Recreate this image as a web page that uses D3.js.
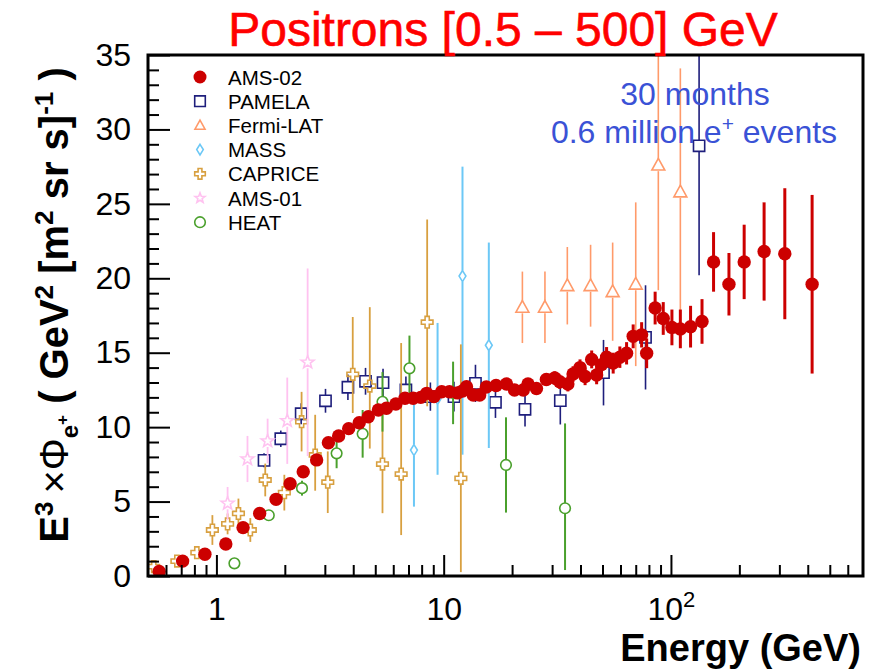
<!DOCTYPE html>
<html>
<head>
<meta charset="utf-8">
<script src="https://cdn.jsdelivr.net/npm/d3@7"></script>
<style>
body { margin: 0; background: #fff; }
svg { font-family: "Liberation Sans", Arial, Helvetica, sans-serif; }
</style>
</head>
<body>
<svg></svg>
<script>
// AMS-02 (energy in GeV, E^3 x flux, error)
let amsE = [0.56,0.71,0.89,1.10,1.31,1.55,1.83,2.11,2.41,2.76,3.11,3.45,3.82,4.25,4.66,5.16,5.6,6.16,6.76,7.34,7.93,8.42,9.07,9.8,
  10.6,11.5,12.1,12.6,13.5,14.4,15.4,17.0,18.9,20.5,22.4,23.5,25.6,28.3,30.8,32.4,35.2,37.1,39.8,41.9,44.8,47.1,49.5,52.1,55.7,59.6,63.8,
  68.2,74.3,78.2,85.2,92.5,101,110,122,137,154,180,210,257,317,418]
let amsV = [0.3,1.0,1.46,2.15,3.25,4.2,5.15,6.2,7.0,7.8,8.95,9.4,9.9,10.3,10.7,11.15,11.27,11.55,11.94,11.94,12.0,12.27,12.05,12.38,
  12.38,12.3,12.43,12.72,12.16,12.16,12.7,12.8,12.9,12.5,12.5,12.9,12.6,13.2,13.3,13.05,12.9,13.57,14.0,13.4,14.55,13.5,14.2,14.7,14.3,14.7,14.96,
  16.1,16.2,14.96,18.0,17.3,16.7,16.6,16.75,17.1,21.1,19.6,21.1,21.8,21.65,19.6]
let amsErr = [0.02,0.03,0.04,0.05,0.06,0.07,0.08,0.09,0.1,0.1,0.1,0.1,0.1,0.1,0.12,0.12,0.12,0.13,0.13,0.14,0.14,0.15,0.15,0.16,
  0.2,0.2,0.22,0.22,0.24,0.25,0.27,0.3,0.32,0.35,0.37,0.38,0.4,0.42,0.45,0.48,0.5,0.52,0.55,0.58,0.6,0.62,0.65,0.68,0.7,0.72,0.75,
  0.8,0.85,1.0,1.1,1.1,1.2,1.3,1.4,1.5,2.0,2.1,2.5,3.3,4.4,6.0]

let pamE = [1.62,1.92,2.36,3.02,3.79,4.53,5.41,6.82,8.74,11.1,13.8,16.9,22.8,32.6,50.5,77.3,133]
let pamV = [7.77,9.22,10.9,11.77,12.68,13.08,12.99,12.5,12.05,12.05,12.94,11.67,11.2,11.78,13.66,16.03,28.9]
let pamErr = [0.47,0.55,0.7,0.8,0.85,0.9,0.93,0.9,0.95,1.0,1.25,1.05,1.15,1.6,2.2,3.5,8.7]

let fermiE = [22.2,27.9,35.0,44.3,55.4,70,88,110]
let fermiV = [18.05,18.05,19.5,19.5,19.1,19.6,27.6,25.8]
let fermiErr = [2.4,2.4,2.6,2.75,3.3,5.5,8.4,8.3]

let massE = [7.4,9.4,12.1,15.8]
let massV = [8.46,11.9,20.15,15.5]
let massLo = [3.8,5.1,12.0,6.9]
let massHi = [3.8,5.1,7.35,6.9]

let capE = [0.53,0.67,0.82,0.96,1.12,1.25,1.41,1.64,1.99,2.37,2.72,3.09,3.98,4.73,5.38,6.5,8.46,11.9]
let capV = [0.63,1.0,1.57,3.09,3.5,4.2,3.09,6.45,5.6,10.37,8.13,6.3,13.55,12.76,7.52,6.85,17.05,6.56]
let capLo = [0.2,0.25,0.3,1.0,0.7,1.0,0.8,1.1,1.2,2.0,2.4,2.07,2.6,4.2,3.3,4.1,5.65,6.3]
let capHi = [0.2,0.25,0.3,1.0,0.7,1.0,0.8,1.1,1.2,2.0,2.7,2.07,3.85,5.3,3.3,8.8,6.9,9.0]

let a01E = [1.12,1.37,1.68,2.05,2.52]
let a01V = [4.88,7.86,9.07,10.43,14.36]
let a01Err = [1.1,1.55,1.5,2.9,6.3]

let heatE = [1.2,1.7,2.38,3.38,4.4,5.38,7.07,11.0,18.8,34.2]
let heatV = [0.85,4.08,5.9,8.24,9.55,11.7,13.95,12.3,7.46,4.55]
let heatLo = [0.1,0.3,0.5,1.0,1.6,2.0,2.2,2.1,3.2,4.15]
let heatHi = [0.1,0.3,0.5,1.0,1.6,2.0,2.2,2.1,3.2,5.7]

let xMajor = [1,10,100]
let xMinor = [0.6,0.7,0.8,0.9,2,3,4,5,6,7,8,9,20,30,40,50,60,70,80,90,200,300,400,500,600]
let yMajor = [0,5,10,15,20,25,30,35]
let yMinor = d3.range(0,36).filter(v => v % 5 != 0)

let width = 874
let height = 670
let padL = 148, padR = 863, padT = 55, padB = 576

let svg = d3.select('svg').attr('width', width).attr('height', height)

let xscale = d3.scaleLog().domain([0.5, 700]).range([padL, padR])
let yscale = d3.scaleLinear().domain([0, 35]).range([padB, padT])

// marker outlines, s = half size
let shapePath = (shape, s) => {
  if (shape == 'circle') return 'M' + s + ',0A' + s + ',' + s + ' 0 1,1 ' + (-s) + ',0A' + s + ',' + s + ' 0 1,1 ' + s + ',0Z'
  if (shape == 'square') return 'M' + (-s) + ',' + (-s) + 'H' + s + 'V' + s + 'H' + (-s) + 'Z'
  if (shape == 'triangle') return 'M0,' + (-s) + 'L' + (s * 0.95) + ',' + (s * 0.72) + 'L' + (-s * 0.95) + ',' + (s * 0.72) + 'Z'
  if (shape == 'diamond') return 'M0,' + (-s) + 'L' + (s * 0.62) + ',0L0,' + s + 'L' + (-s * 0.62) + ',0Z'
  if (shape == 'cross') {
    let a = s * 0.36
    let p = [[-a,-s],[a,-s],[a,-a],[s,-a],[s,a],[a,a],[a,s],[-a,s],[-a,a],[-s,a],[-s,-a],[-a,-a]]
    return 'M' + p.map(q => q.join(',')).join('L') + 'Z'
  }
  if (shape == 'star') {
    let p = []
    for (let i = 0; i < 10; i++) {
      let r = i % 2 == 0 ? s : s * 0.42
      let ang = -Math.PI / 2 + i * Math.PI / 5
      p.push([r * Math.cos(ang), r * Math.sin(ang)])
    }
    return 'M' + p.map(q => q.join(',')).join('L') + 'Z'
  }
}

let series = [
  {name: 'PAMELA', E: pamE, V: pamV, lo: pamErr, hi: pamErr, color: '#1e1e7c', shape: 'square', s: 5.6, lw: 1.6, gap: 5.6},
  {name: 'Fermi-LAT', E: fermiE, V: fermiV, lo: fermiErr, hi: fermiErr, color: '#ff9a6a', shape: 'triangle', s: 6.8, lw: 1.6, gap: 6},
  {name: 'MASS', E: massE, V: massV, lo: massLo, hi: massHi, color: '#6cc8f6', shape: 'diamond', s: 5.5, lw: 2, gap: 5.5},
  {name: 'CAPRICE', E: capE, V: capV, lo: capLo, hi: capHi, color: '#d8a040', shape: 'cross', s: 5.8, lw: 1.8, gap: 5.8},
  {name: 'AMS-01', E: a01E, V: a01V, lo: a01Err, hi: a01Err, color: '#ffc2f0', shape: 'star', s: 6.8, lw: 1.8, gap: 6},
  {name: 'HEAT', E: heatE, V: heatV, lo: heatLo, hi: heatHi, color: '#4aa02c', shape: 'circle', s: 5.3, lw: 2, gap: 5.3},
  {name: 'AMS-02', E: amsE, V: amsV, lo: amsErr, hi: amsErr, color: '#cc0000', shape: 'circle', s: 6.7, lw: 3, gap: 0, filled: true}
]

svg.append('clipPath').attr('id', 'plotclip')
  .append('rect').attr('x', padL).attr('y', padT).attr('width', padR - padL).attr('height', padB - padT)

let plot = svg.append('g').attr('clip-path', 'url(#plotclip)')

let drawSeries = (sr) => {
  let pts = sr.E.map((e, i) => ({e: e, v: sr.V[i], lo: sr.lo[i], hi: sr.hi[i]}))
  let g = plot.append('g')
  // error bars, with a gap where the open marker sits
  pts.forEach(d => {
    let cx = xscale(d.e), cy = yscale(d.v)
    let yt = yscale(d.v + d.hi), yb = yscale(Math.max(0, d.v - d.lo))
    if (cy - sr.gap > yt) g.append('line').attr('x1', cx).attr('x2', cx).attr('y1', yt).attr('y2', cy - sr.gap)
      .attr('stroke', sr.color).attr('stroke-width', sr.lw)
    if (cy + sr.gap < yb) g.append('line').attr('x1', cx).attr('x2', cx).attr('y1', cy + sr.gap).attr('y2', yb)
      .attr('stroke', sr.color).attr('stroke-width', sr.lw)
  })
  g.selectAll('.mk')
    .data(pts)
    .enter()
    .append('path')
    .attr('d', shapePath(sr.shape, sr.s))
    .attr('transform', d => 'translate(' + xscale(d.e) + ',' + yscale(d.v) + ')')
    .attr('fill', sr.filled ? sr.color : 'none')
    .attr('stroke', sr.color)
    .attr('stroke-width', sr.filled ? 0 : 1.6)
}

series.forEach(drawSeries)

// axes (ticks point inside the frame)
let xMaj = d3.axisBottom(xscale).tickValues(xMajor).tickSizeInner(-21).tickSizeOuter(0).tickPadding(21)
  .tickFormat(d => d == 100 ? '' : d3.format('d')(d))
let xMin = d3.axisBottom(xscale).tickValues(xMinor).tickSizeInner(-11).tickSizeOuter(0).tickFormat('')
let yMaj = d3.axisLeft(yscale).tickValues(yMajor).tickSizeInner(-22).tickSizeOuter(0).tickPadding(17)
let yMin = d3.axisLeft(yscale).tickValues(yMinor).tickSizeInner(-11).tickSizeOuter(0).tickFormat('')

let styleAxis = (g) => {
  g.select('.domain').remove()
  g.selectAll('line').attr('stroke', '#000').attr('stroke-width', 2)
  g.selectAll('text').attr('font-size', 32).attr('fill', '#000').attr('font-family', '"Liberation Sans", Arial, sans-serif')
}

svg.append('g').attr('transform', 'translate(0,' + padB + ')').call(xMin).call(styleAxis)
let xg = svg.append('g').attr('transform', 'translate(0,' + padB + ')').call(xMaj).call(styleAxis)
svg.append('g').attr('transform', 'translate(' + padL + ',0)').call(yMin).call(styleAxis)
svg.append('g').attr('transform', 'translate(' + padL + ',0)').call(yMaj).call(styleAxis)

// the 10^2 label
xg.selectAll('.tick').filter(d => d == 100).select('text')
  .each(function () {
    let t = d3.select(this)
    t.append('tspan').text('10')
    t.append('tspan').attr('dy', -13).attr('font-size', 22).text('2')
  })

svg.append('rect')
  .attr('x', padL).attr('y', padT).attr('width', padR - padL).attr('height', padB - padT)
  .attr('fill', 'none').attr('stroke', '#000').attr('stroke-width', 3)

// title
svg.append('text')
  .attr('x', 503).attr('y', 46)
  .attr('text-anchor', 'middle')
  .attr('font-size', 48)
  .attr('fill', '#ff0000')
  .attr('stroke', '#ff0000')
  .attr('stroke-width', 0.6)
  .text('Positrons [0.5 \u2013 500] GeV')

// annotation
let note = svg.append('g').attr('fill', '#3a52d6').attr('font-size', 32).attr('text-anchor', 'middle')
note.append('text').attr('x', 695).attr('y', 105).text('30 months')
let n2 = note.append('text').attr('x', 694).attr('y', 143)
n2.append('tspan').text('0.6 million e')
n2.append('tspan').attr('dy', -12).attr('font-size', 21).text('+')
n2.append('tspan').attr('dy', 12).text(' events')

// x title
svg.append('text')
  .attr('x', 861).attr('y', 661)
  .attr('text-anchor', 'end')
  .attr('font-size', 38)
  .attr('font-weight', 'bold')
  .text('Energy (GeV)')

// y title
let ytitle = svg.append('text')
  .attr('transform', 'translate(68,305) rotate(-90)')
  .attr('text-anchor', 'middle')
  .attr('font-size', 40)
  .attr('font-weight', 'bold')
ytitle.append('tspan').text('E')
ytitle.append('tspan').attr('dy', -15).attr('font-size', 26).text('3')
ytitle.append('tspan').attr('dy', 15).attr('font-weight', 'normal').text('\u2009\u00d7\u03a6')
ytitle.append('tspan').attr('dy', 10).attr('font-size', 24).text('e')
ytitle.append('tspan').attr('dy', -10).attr('font-size', 17).text('+')
ytitle.append('tspan').attr('dy', 0).text(' ( GeV')
ytitle.append('tspan').attr('dy', -15).attr('font-size', 26).text('2')
ytitle.append('tspan').attr('dy', 15).text(' [m')
ytitle.append('tspan').attr('dy', -15).attr('font-size', 26).text('2')
ytitle.append('tspan').attr('dy', 15).text(' sr s]')
ytitle.append('tspan').attr('dy', -15).attr('font-size', 26).text('-1')
ytitle.append('tspan').attr('dy', 15).text(' )')

// legend
let legendOrder = ['AMS-02', 'PAMELA', 'Fermi-LAT', 'MASS', 'CAPRICE', 'AMS-01', 'HEAT']
let legend = svg.append('g')
legendOrder.forEach((name, i) => {
  let sr = series.find(s => s.name == name)
  let y = 77 + i * 24.2
  legend.append('path')
    .attr('d', shapePath(sr.shape, sr.filled ? 6.5 : 5.3))
    .attr('transform', 'translate(200,' + y + ')')
    .attr('fill', sr.filled ? sr.color : 'none')
    .attr('stroke', sr.color)
    .attr('stroke-width', sr.filled ? 0 : 1.6)
  legend.append('text')
    .attr('x', 228).attr('y', y + 7.5)
    .attr('font-size', 20.5)
    .text(name)
})
</script>
</body>
</html>
